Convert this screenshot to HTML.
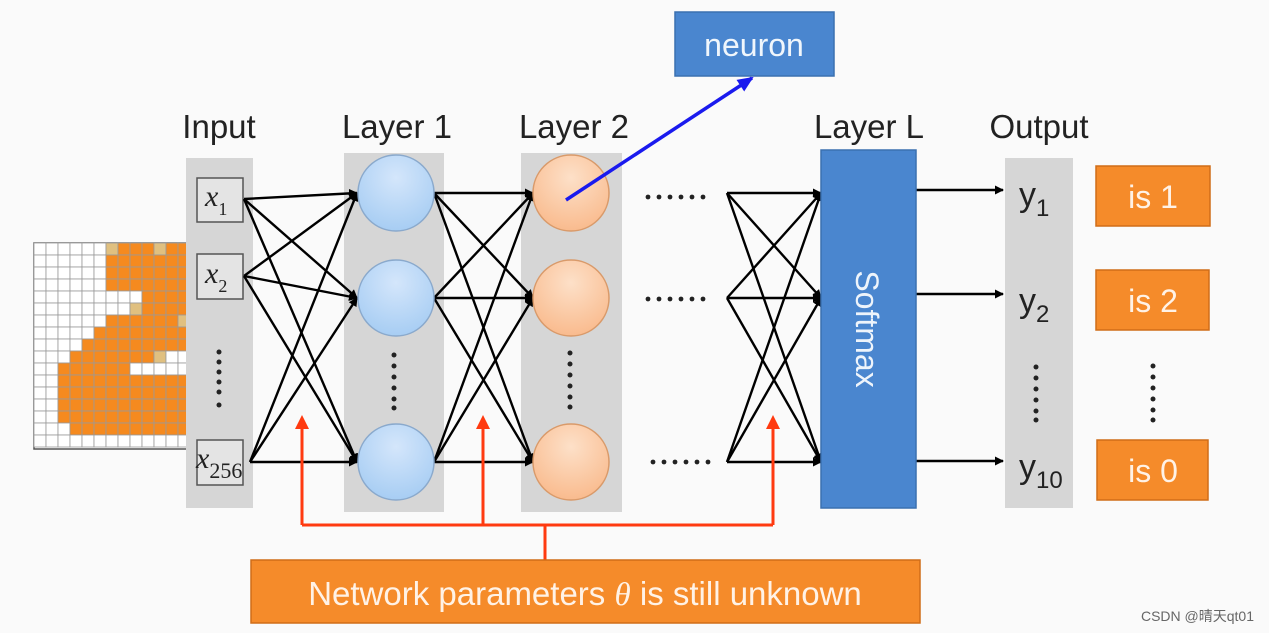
<!DOCTYPE html>
<html><head><meta charset="utf-8"><style>
html,body{margin:0;padding:0;background:#fafafa;}
svg{display:block;}
text{font-family:"Liberation Sans",sans-serif;}
</style></head><body>
<svg width="1269" height="633" viewBox="0 0 1269 633" xmlns="http://www.w3.org/2000/svg">
<defs>
<marker id="ab" markerWidth="9" markerHeight="9" refX="8" refY="4.5" orient="auto" markerUnits="userSpaceOnUse"><path d="M0,0 L9,4.5 L0,9 z" fill="#000"/></marker>
<marker id="ar" markerWidth="14" markerHeight="14" refX="7" refY="7" orient="auto" markerUnits="userSpaceOnUse"><path d="M0,0 L14,7 L0,14 z" fill="#ff3a10"/></marker>
<marker id="au" markerWidth="16" markerHeight="14" refX="14" refY="7" orient="auto" markerUnits="userSpaceOnUse"><path d="M0,0 L16,7 L0,14 z" fill="#1a1aee"/></marker>
<radialGradient id="gb" cx="50%" cy="30%" r="70%"><stop offset="0" stop-color="#d4e6fb"/><stop offset="1" stop-color="#a7cdf3"/></radialGradient>
<radialGradient id="go" cx="50%" cy="30%" r="70%"><stop offset="0" stop-color="#fde0c8"/><stop offset="1" stop-color="#f9bb8e"/></radialGradient>
</defs>
<rect width="1269" height="633" fill="#fafafa"/>

<g id="grid"></g>

<rect x="186" y="158" width="67" height="350" fill="#d6d6d6"/>
<rect x="344" y="153" width="100" height="359" fill="#d6d6d6"/>
<rect x="521" y="153" width="101" height="359" fill="#d6d6d6"/>
<rect x="1005" y="158" width="68" height="350" fill="#d6d6d6"/>

<g font-size="33" fill="#222" text-anchor="middle">
<text x="219" y="138">Input</text>
<text x="397" y="138">Layer 1</text>
<text x="574" y="138">Layer 2</text>
<text x="869" y="138">Layer L</text>
<text x="1039" y="138">Output</text>
</g>

<g fill="#e4e4e4" stroke="#555" stroke-width="1.5">
<rect x="197" y="178" width="46" height="44"/>
<rect x="197" y="254" width="46" height="45"/>
<rect x="197" y="440" width="46" height="45"/>
</g>
<g font-style="italic" fill="#222">
<text x="205" y="206" font-size="30" style="font-family:'Liberation Serif',serif">x<tspan font-size="18" dy="9" font-style="normal">1</tspan></text>
<text x="205" y="283" font-size="30" style="font-family:'Liberation Serif',serif">x<tspan font-size="18" dy="9" font-style="normal">2</tspan></text>
<text x="196" y="468" font-size="30" style="font-family:'Liberation Serif',serif">x<tspan font-size="22" dy="10" font-style="normal">256</tspan></text>
</g>
<g fill="#222">
<circle cx="219" cy="352" r="2.5"/><circle cx="219" cy="362" r="2.5"/><circle cx="219" cy="372" r="2.5"/><circle cx="219" cy="382" r="2.5"/><circle cx="219" cy="392" r="2.5"/><circle cx="219" cy="405" r="2.5"/>
</g>

<g stroke="#000" stroke-width="2.4" fill="none" marker-end="url(#ab)">
<line x1="244" y1="199" x2="357" y2="193"/><line x1="244" y1="199" x2="357" y2="298"/><line x1="244" y1="199" x2="357" y2="462"/>
<line x1="244" y1="276" x2="357" y2="193"/><line x1="244" y1="276" x2="357" y2="298"/><line x1="244" y1="276" x2="357" y2="462"/>
<line x1="250" y1="462" x2="357" y2="193"/><line x1="250" y1="462" x2="357" y2="298"/><line x1="250" y1="462" x2="357" y2="462"/>

<line x1="434" y1="193" x2="533" y2="193"/><line x1="434" y1="193" x2="533" y2="298"/><line x1="434" y1="193" x2="533" y2="462"/>
<line x1="434" y1="298" x2="533" y2="193"/><line x1="434" y1="298" x2="533" y2="298"/><line x1="434" y1="298" x2="533" y2="462"/>
<line x1="434" y1="462" x2="533" y2="193"/><line x1="434" y1="462" x2="533" y2="298"/><line x1="434" y1="462" x2="533" y2="462"/>

<line x1="727" y1="193" x2="821" y2="193"/><line x1="727" y1="193" x2="821" y2="298"/><line x1="727" y1="193" x2="821" y2="462"/>
<line x1="727" y1="298" x2="821" y2="193"/><line x1="727" y1="298" x2="821" y2="298"/><line x1="727" y1="298" x2="821" y2="462"/>
<line x1="727" y1="462" x2="821" y2="193"/><line x1="727" y1="462" x2="821" y2="298"/><line x1="727" y1="462" x2="821" y2="462"/>

<line x1="916" y1="190" x2="1003" y2="190"/><line x1="916" y1="294" x2="1003" y2="294"/><line x1="916" y1="461" x2="1003" y2="461"/>
</g>

<g stroke="#8aa9cc" stroke-width="1.5" fill="url(#gb)">
<circle cx="396" cy="193" r="38"/><circle cx="396" cy="298" r="38"/><circle cx="396" cy="462" r="38"/>
</g>
<g stroke="#d99a6a" stroke-width="1.5" fill="url(#go)">
<circle cx="571" cy="193" r="38"/><circle cx="571" cy="298" r="38"/><circle cx="571" cy="462" r="38"/>
</g>
<g fill="#222">
<circle cx="394" cy="355" r="2.5"/><circle cx="394" cy="366" r="2.5"/><circle cx="394" cy="377" r="2.5"/><circle cx="394" cy="388" r="2.5"/><circle cx="394" cy="399" r="2.5"/><circle cx="394" cy="408" r="2.5"/>
<circle cx="570" cy="353" r="2.5"/><circle cx="570" cy="364" r="2.5"/><circle cx="570" cy="375" r="2.5"/><circle cx="570" cy="386" r="2.5"/><circle cx="570" cy="397" r="2.5"/><circle cx="570" cy="407" r="2.5"/>
<circle cx="1036" cy="367" r="2.5"/><circle cx="1036" cy="378" r="2.5"/><circle cx="1036" cy="389" r="2.5"/><circle cx="1036" cy="400" r="2.5"/><circle cx="1036" cy="411" r="2.5"/><circle cx="1036" cy="420" r="2.5"/>
<circle cx="1153" cy="366" r="2.5"/><circle cx="1153" cy="377" r="2.5"/><circle cx="1153" cy="388" r="2.5"/><circle cx="1153" cy="399" r="2.5"/><circle cx="1153" cy="410" r="2.5"/><circle cx="1153" cy="420" r="2.5"/>
<circle cx="648" cy="197" r="2.4"/><circle cx="659" cy="197" r="2.4"/><circle cx="670" cy="197" r="2.4"/><circle cx="681" cy="197" r="2.4"/><circle cx="692" cy="197" r="2.4"/><circle cx="703" cy="197" r="2.4"/>
<circle cx="648" cy="299" r="2.4"/><circle cx="659" cy="299" r="2.4"/><circle cx="670" cy="299" r="2.4"/><circle cx="681" cy="299" r="2.4"/><circle cx="692" cy="299" r="2.4"/><circle cx="703" cy="299" r="2.4"/>
<circle cx="653" cy="462" r="2.4"/><circle cx="664" cy="462" r="2.4"/><circle cx="675" cy="462" r="2.4"/><circle cx="686" cy="462" r="2.4"/><circle cx="697" cy="462" r="2.4"/><circle cx="708" cy="462" r="2.4"/>
</g>

<rect x="821" y="150" width="95" height="358" fill="#4a86cf" stroke="#3a70b0" stroke-width="1.5"/>
<text transform="translate(856,329) rotate(90)" font-size="32" fill="#eef4fb" text-anchor="middle">Softmax</text>

<g font-size="34" fill="#222">
<text x="1019" y="206">y<tspan font-size="24" dy="10">1</tspan></text>
<text x="1019" y="312">y<tspan font-size="24" dy="10">2</tspan></text>
<text x="1019" y="478">y<tspan font-size="24" dy="10">10</tspan></text>
</g>

<g fill="#f58b2a" stroke="#d06d18" stroke-width="1.5">
<rect x="1096" y="166" width="114" height="60"/>
<rect x="1096" y="270" width="113" height="60"/>
<rect x="1097" y="440" width="111" height="60"/>
</g>
<g font-size="32" fill="#fff2e6" text-anchor="middle">
<text x="1153" y="208">is 1</text>
<text x="1153" y="312">is 2</text>
<text x="1153" y="482">is 0</text>
</g>

<rect x="675" y="12" width="159" height="64" fill="#4a86cf" stroke="#3a70b0" stroke-width="1.5"/>
<text x="754" y="56" font-size="32" fill="#f0f6fc" text-anchor="middle">neuron</text>
<line x1="566" y1="200" x2="752" y2="78" stroke="#1a1aee" stroke-width="3.5" marker-end="url(#au)"/>

<g stroke="#ff3a10" stroke-width="3" fill="none">
<polyline points="302,525 773,525"/>
<line x1="545" y1="525" x2="545" y2="560"/>
<line x1="302" y1="525" x2="302" y2="422" marker-end="url(#ar)"/>
<line x1="483" y1="525" x2="483" y2="422" marker-end="url(#ar)"/>
<line x1="773" y1="525" x2="773" y2="422" marker-end="url(#ar)"/>
</g>
<rect x="251" y="560" width="669" height="63" fill="#f58b2a" stroke="#d06d18" stroke-width="1.5"/>
<text x="585" y="605" font-size="33" fill="#fff2e6" text-anchor="middle">Network parameters <tspan font-family="Liberation Serif" font-style="italic">θ</tspan> is still unknown</text>

<text x="1254" y="621" font-size="14" fill="#666" text-anchor="end" style="font-family:'Liberation Sans','Noto Sans CJK SC',sans-serif">CSDN @晴天qt01</text>
</svg>
<script>
(function(){
var g=document.getElementById('grid');
var rows={0:[6,12],1:[6,12],2:[6,12],3:[6,12],4:[9,12],5:[8,12],6:[6,12],7:[5,12],8:[4,12],9:[3,9],10:[2,7],11:[2,12],12:[2,12],13:[2,12],14:[2,12],15:[3,12]};
var beige={'0,6':1,'0,10':1,'5,8':1,'6,12':1,'9,10':1};
var s='';
var x0=34,y0=243,c=12;
s+='<rect x="'+x0+'" y="'+y0+'" width="156" height="206" fill="#fff" stroke="#555" stroke-width="1.5"/>';
for(var r=0;r<17;r++){for(var k=0;k<13;k++){var f='#fff';if(rows[r]&&k>=rows[r][0]&&k<=rows[r][1])f='#f58a1f';
if(beige[r+','+k])f='#e0c080';
s+='<rect x="'+(x0+k*c)+'" y="'+(y0+r*c)+'" width="'+c+'" height="'+c+'" fill="'+f+'" stroke="#999" stroke-width="0.8"/>';}}
g.innerHTML=s;
})();
</script>
</body></html>
